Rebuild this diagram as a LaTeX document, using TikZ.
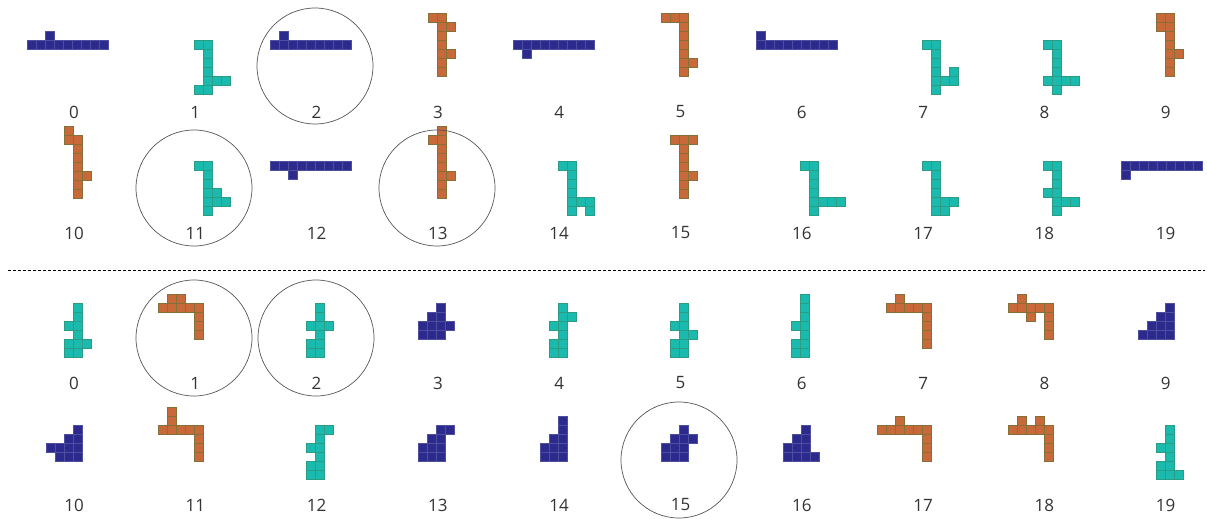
\documentclass[tikz,border=0pt]{standalone}
\usepackage{fontspec}
\setmainfont{Open Sans}
\definecolor{navyc}{HTML}{2D2A8E}
\definecolor{navyl}{HTML}{4F4FA0}
\definecolor{tealc}{HTML}{1BBAAE}
\definecolor{teall}{HTML}{2C9C82}
\definecolor{orangec}{HTML}{C8693A}
\definecolor{orangel}{HTML}{85703A}
\definecolor{labc}{HTML}{333333}
\definecolor{circc}{HTML}{555555}
\tikzset{
  navycell/.style={fill=navyc, draw=navyl, line width=0.5pt},
  tealcell/.style={fill=tealc, draw=teall, line width=0.5pt},
  orangecell/.style={fill=orangec, draw=orangel, line width=0.5pt},
  lab/.style={font=\fontsize{17}{20}\selectfont, text=labc, inner sep=0pt, anchor=center},
  selcirc/.style={circle, draw=circc, line width=0.7pt, minimum size=116pt, inner sep=0pt},
}
\newcommand\poly[4]{\foreach \cc/\rr in {#4}{\draw[#3] ({#1+9*\cc},{#2+9*\rr}) rectangle ++(9,9);}}
\begin{document}
\begin{tikzpicture}[x=1pt,y=-1pt]
\useasboundingbox (0,0) rectangle (1207,519);
% ---------- row A ----------
\poly{27}{31}{navycell}{2/0,0/1,1/1,2/1,3/1,4/1,5/1,6/1,7/1,8/1}
\poly{194}{40}{tealcell}{0/0,1/0,1/1,1/2,1/3,1/4,2/4,3/4,0/5,1/5}
\poly{270}{31}{navycell}{1/0,0/1,1/1,2/1,3/1,4/1,5/1,6/1,7/1,8/1}
\poly{428}{13}{orangecell}{0/0,1/0,1/1,2/1,1/2,1/3,1/4,2/4,1/5,1/6}
\poly{513}{40}{navycell}{0/0,1/0,2/0,3/0,4/0,5/0,6/0,7/0,8/0,1/1}
\poly{661}{13}{orangecell}{0/0,1/0,2/0,2/1,2/2,2/3,2/4,2/5,3/5,2/6}
\poly{756}{31}{navycell}{0/0,0/1,1/1,2/1,3/1,4/1,5/1,6/1,7/1,8/1}
\poly{922}{40}{tealcell}{0/0,1/0,1/1,1/2,1/3,3/3,1/4,2/4,3/4,1/5}
\poly{1043}{40}{tealcell}{0/0,1/0,1/1,1/2,1/3,0/4,1/4,2/4,3/4,1/5}
\poly{1156}{13}{orangecell}{0/0,1/0,0/1,1/1,1/2,1/3,1/4,2/4,1/5,1/6}
% ---------- row B ----------
\poly{64}{126}{orangecell}{0/0,0/1,1/1,1/2,1/3,1/4,1/5,2/5,1/6,1/7}
\poly{194}{161}{tealcell}{0/0,1/0,1/1,1/2,1/3,2/3,1/4,2/4,3/4,1/5}
\poly{270}{161}{navycell}{0/0,1/0,2/0,3/0,4/0,5/0,6/0,7/0,8/0,2/1}
\poly{428}{126}{orangecell}{1/0,0/1,1/1,1/2,1/3,1/4,1/5,2/5,1/6,1/7}
\poly{558}{161}{tealcell}{0/0,1/0,1/1,1/2,1/3,1/4,2/4,3/4,1/5,3/5}
\poly{670}{135}{orangecell}{0/0,1/0,2/0,1/1,1/2,1/3,1/4,2/4,1/5,1/6}
\poly{800}{161}{tealcell}{0/0,1/0,1/1,1/2,1/3,1/4,2/4,3/4,4/4,1/5}
\poly{922}{161}{tealcell}{0/0,1/0,1/1,1/2,1/3,1/4,2/4,3/4,1/5,2/5}
\poly{1043}{161}{tealcell}{0/0,1/0,1/1,1/2,0/3,1/3,1/4,2/4,3/4,1/5}
\poly{1121}{161}{navycell}{0/0,1/0,2/0,3/0,4/0,5/0,6/0,7/0,8/0,0/1}
% ---------- row C ----------
\poly{64}{303}{tealcell}{1/0,1/1,0/2,1/2,1/3,0/4,1/4,2/4,0/5,1/5}
\poly{158}{294}{orangecell}{1/0,2/0,0/1,1/1,2/1,3/1,4/1,4/2,4/3,4/4}
\poly{306}{303}{tealcell}{1/0,1/1,0/2,1/2,2/2,1/3,0/4,1/4,0/5,1/5}
\poly{418}{303}{navycell}{2/0,1/1,2/1,0/2,1/2,2/2,3/2,0/3,1/3,2/3}
\poly{549}{303}{tealcell}{1/0,1/1,2/1,0/2,1/2,1/3,0/4,1/4,0/5,1/5}
\poly{670}{303}{tealcell}{1/0,1/1,0/2,1/2,1/3,2/3,0/4,1/4,0/5,1/5}
\poly{791}{294}{tealcell}{1/0,1/1,1/2,0/3,1/3,1/4,0/5,1/5,0/6,1/6}
\poly{886}{294}{orangecell}{1/0,0/1,1/1,2/1,3/1,4/1,4/2,4/3,4/4,4/5}
\poly{1008}{294}{orangecell}{1/0,0/1,1/1,2/1,3/1,4/1,2/2,4/2,4/3,4/4}
\poly{1138}{303}{navycell}{3/0,2/1,3/1,1/2,2/2,3/2,0/3,1/3,2/3,3/3}
% ---------- row D ----------
\poly{46}{425}{navycell}{3/0,2/1,3/1,0/2,1/2,2/2,3/2,1/3,2/3,3/3}
\poly{158}{407}{orangecell}{1/0,1/1,0/2,1/2,2/2,3/2,4/2,4/3,4/4,4/5}
\poly{306}{425}{tealcell}{1/0,2/0,1/1,0/2,1/2,1/3,0/4,1/4,0/5,1/5}
\poly{418}{425}{navycell}{2/0,3/0,1/1,2/1,0/2,1/2,2/2,0/3,1/3,2/3}
\poly{540}{416}{navycell}{2/0,2/1,1/2,2/2,0/3,1/3,2/3,0/4,1/4,2/4}
\poly{661}{425}{navycell}{2/0,1/1,2/1,3/1,0/2,1/2,2/2,0/3,1/3,2/3}
\poly{783}{425}{navycell}{2/0,1/1,2/1,0/2,1/2,2/2,0/3,1/3,2/3,3/3}
\poly{877}{416}{orangecell}{2/0,0/1,1/1,2/1,3/1,4/1,5/1,5/2,5/3,5/4}
\poly{1008}{416}{orangecell}{1/0,3/0,0/1,1/1,2/1,3/1,4/1,4/2,4/3,4/4}
\poly{1156}{425}{tealcell}{1/0,1/1,0/2,1/2,1/3,0/4,1/4,0/5,1/5,2/5}
% ---------- labels ----------
\foreach \i in {0,...,9}{
  \pgfmathtruncatemacro\j{\i+10}
  \node[lab] (la\i) at ({74+121.3*\i},112) {\i};
  \node[lab] (lb\i) at ({74+121.3*\i},233) {\j};
  \node[lab] (lc\i) at ({74+121.3*\i},383) {\i};
  \node[lab] (ld\i) at ({74+121.3*\i},505) {\j};
}
% ---------- selection circles ----------
\node[selcirc] (ca2) at (315,66) {};
\node[selcirc] (cb11) at (194,188) {};
\node[selcirc] (cb13) at (437,188) {};
\node[selcirc] (cc1) at (194,338) {};
\node[selcirc] (cc2) at (316,338) {};
\node[selcirc] (cd15) at (679,460) {};
% ---------- separator ----------
\coordinate (sepl) at (8,270);
\coordinate (sepr) at (1205,270);
\draw[line width=0.8pt, dash pattern=on 3pt off 2pt] (sepl) -- (sepr);
\end{tikzpicture}
\end{document}
